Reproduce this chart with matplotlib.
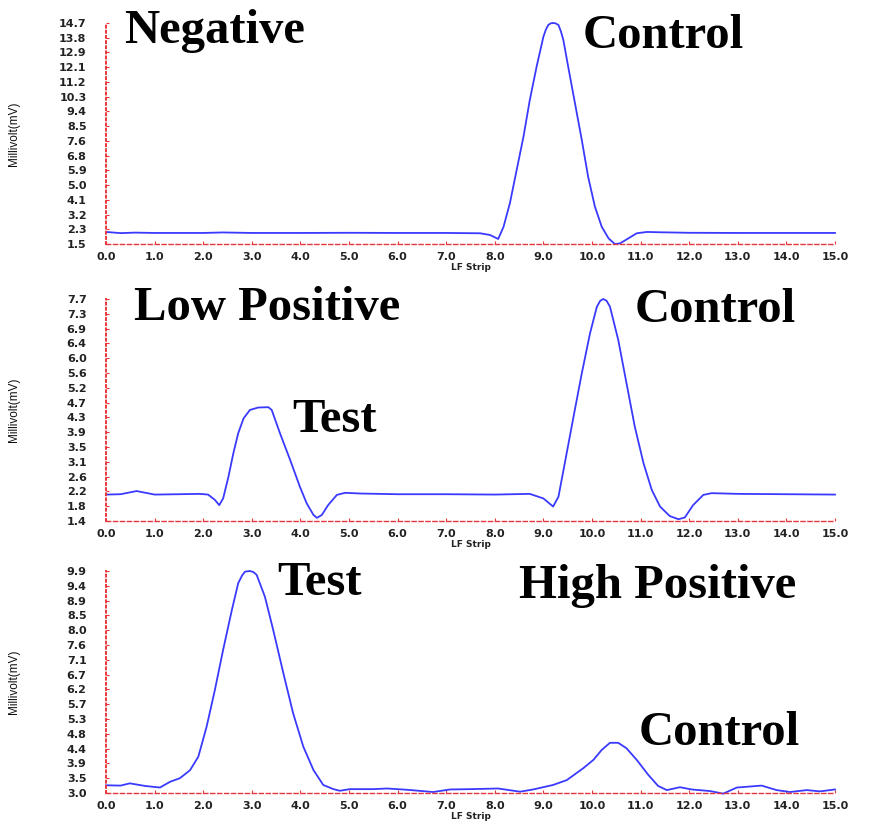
import numpy as np
import matplotlib
matplotlib.use("Agg")
import matplotlib.pyplot as plt

# strip position (LF Strip) and signal (mV)
neg_x = [0.0, 0.3, 0.6, 1.0, 2.0, 2.4, 3.0, 4.0, 5.0, 6.0, 7.0, 7.7, 7.9, 8.07, 8.18,
         8.31, 8.45, 8.59, 8.72, 8.86, 9.0, 9.05, 9.1, 9.15, 9.2, 9.25, 9.31, 9.36, 9.41,
         9.51, 9.65, 9.79, 9.92, 10.06, 10.2, 10.34, 10.47, 10.58, 10.75, 10.92, 11.13,
         11.4, 12.0, 13.0, 14.0, 15.0]
neg_y = [2.22, 2.15, 2.18, 2.16, 2.16, 2.19, 2.16, 2.16, 2.17, 2.16, 2.16, 2.14, 2.04, 1.8, 2.53,
         3.93, 5.92, 7.91, 10.1, 12.09, 13.88, 14.3, 14.58, 14.68, 14.7, 14.68, 14.58, 14.2,
         13.69, 12.09, 9.9, 7.71, 5.52, 3.73, 2.53, 1.84, 1.5, 1.54, 1.84, 2.14, 2.22,
         2.2, 2.17, 2.16, 2.16, 2.16]

low_x = [0.0, 0.3, 0.63, 1.0, 1.5, 1.93, 2.1, 2.24, 2.33, 2.41, 2.52, 2.62, 2.72, 2.83,
         2.96, 3.13, 3.34, 3.41, 3.58, 3.79, 3.99, 4.13, 4.27, 4.34, 4.44, 4.57, 4.75,
         4.92, 5.23, 6.0, 7.0, 8.0, 8.72, 9.0, 9.2, 9.31, 9.44, 9.62, 9.79, 9.96, 10.1,
         10.17, 10.23, 10.3, 10.37, 10.54, 10.71, 10.88, 11.06, 11.23, 11.4, 11.6, 11.78,
         11.91, 12.08, 12.29, 12.46, 13.0, 14.0, 15.0]
low_y = [2.15, 2.16, 2.25, 2.15, 2.16, 2.17, 2.15, 2.0, 1.85, 2.04, 2.66, 3.32, 3.89, 4.31,
         4.55, 4.62, 4.63, 4.55, 3.89, 3.13, 2.37, 1.9, 1.57, 1.49, 1.57, 1.85, 2.14,
         2.2, 2.18, 2.16, 2.16, 2.15, 2.17, 2.04, 1.81, 2.09, 3.04, 4.36, 5.59, 6.73, 7.48,
         7.65, 7.7, 7.65, 7.48, 6.54, 5.31, 4.08, 3.04, 2.28, 1.81, 1.54, 1.45,
         1.5, 1.85, 2.14, 2.19, 2.17, 2.16, 2.15]

high_x = [0.0, 0.3, 0.49, 0.8, 1.11, 1.32, 1.52, 1.73, 1.9, 2.07, 2.24, 2.41, 2.59, 2.72,
          2.8, 2.86, 2.96, 3.03, 3.1, 3.27, 3.44, 3.65, 3.85, 4.06, 4.27, 4.47, 4.68, 4.81,
          5.02, 5.5, 5.78, 6.2, 6.73, 7.08, 7.5, 8.07, 8.52, 8.79, 9.2, 9.48, 9.82, 10.03,
          10.2, 10.37, 10.54, 10.71, 10.92, 11.16, 11.36, 11.54, 11.81, 12.05, 12.43, 12.7,
          12.98, 13.49, 13.8, 14.07, 14.42, 14.69, 15.0]
high_y = [3.24, 3.23, 3.3, 3.22, 3.17, 3.35, 3.46, 3.71, 4.13, 5.06, 6.2, 7.45, 8.69, 9.52,
          9.76, 9.88, 9.9, 9.87, 9.78, 9.1, 8.07, 6.72, 5.48, 4.44, 3.71, 3.25, 3.12, 3.07,
          3.12, 3.12, 3.14, 3.1, 3.03, 3.11, 3.12, 3.14, 3.04, 3.11, 3.25, 3.4, 3.77, 4.03,
          4.34, 4.56, 4.56, 4.39, 4.03, 3.56, 3.22, 3.09, 3.18, 3.11, 3.06, 2.98,
          3.17, 3.23, 3.09, 3.03, 3.09, 3.05, 3.11]

neg_ticks = ["1.5", "2.3", "3.2", "4.1", "5.0", "5.9", "6.8", "7.6", "8.5", "9.4",
             "10.3", "11.2", "12.1", "12.9", "13.8", "14.7"]
low_ticks = ["1.4", "1.8", "2.2", "2.6", "3.1", "3.5", "3.9", "4.3", "4.7", "5.2",
             "5.6", "6.0", "6.4", "6.9", "7.3", "7.7"]
high_ticks = ["3.0", "3.5", "3.9", "4.4", "4.8", "5.3", "5.7", "6.2", "6.7", "7.1",
              "7.6", "8.0", "8.5", "8.9", "9.4", "9.9"]
x_ticks = [f"{v:.1f}" for v in range(16)]

W, H = 869, 823
fig = plt.figure(figsize=(W / 100, H / 100), dpi=100)

title_font = dict(family="Liberation Serif", weight="bold", fontsize=35, color="black")


def px_box(left, top, right, bottom):
    # axes box from pixel edges
    return [left / W, 1 - bottom / H, (right - left) / W, (bottom - top) / H]


def panel(box, xs, ys, ylabels):
    ax = fig.add_axes(px_box(*box))
    ax.plot(xs, ys, color="#3a3aff", lw=1.3, solid_joinstyle="round", clip_on=False)
    lo, hi = float(ylabels[0]), float(ylabels[-1])
    ax.set_xlim(0, 15)
    ax.set_ylim(lo, hi)
    ax.set_yticks(np.linspace(lo, hi, len(ylabels)))
    ax.set_yticklabels(ylabels)
    ax.set_xticks(range(16))
    ax.set_xticklabels(x_ticks)
    for s in ["top", "right"]:
        ax.spines[s].set_visible(False)
    ax.spines["left"].set_color("#e8373c")
    ax.spines["left"].set_linestyle(":")
    ax.spines["left"].set_linewidth(1.4)
    ax.spines["bottom"].set_color("#e8373c")
    ax.spines["bottom"].set_linestyle((0, (3, 2)))
    ax.spines["bottom"].set_linewidth(1.0)
    ax.tick_params(axis="y", direction="in", length=2, color="#e8373c", pad=14,
                   labelsize=8)
    ax.tick_params(axis="x", direction="in", length=2, color="#e8373c", pad=6,
                   labelsize=8)
    for lab in ax.get_xticklabels() + ax.get_yticklabels():
        lab.set_fontweight("bold")
        lab.set_color("#222222")
    ax.set_xlabel("LF Strip", fontsize=6.5, fontweight="bold", color="#222222")
    ax.xaxis.set_label_coords(0.5, -0.085)
    ax.set_ylabel("Millivolt(mV)", fontsize=8.5, color="#111111",
                  family="Liberation Sans")
    ax.yaxis.set_label_coords(-0.118, 0.5)
    return ax


panel((106, 23, 835, 244), neg_x, neg_y, neg_ticks)
panel((106, 299, 835, 521), low_x, low_y, low_ticks)
panel((106, 571, 835, 793), high_x, high_y, high_ticks)


def label(txt, x, y):
    fig.text(x / W, 1 - y / H, txt, ha="left", va="center", **title_font)


label("Negative", 124, 31)
label("Control", 583, 36)
label("Low Positive", 134, 308)
label("Control", 635, 310)
label("Test", 292, 420)
label("Test", 277, 583)
label("High Positive", 519, 586)
label("Control", 639, 733)

fig.savefig("out.png", dpi=100, facecolor="white")
